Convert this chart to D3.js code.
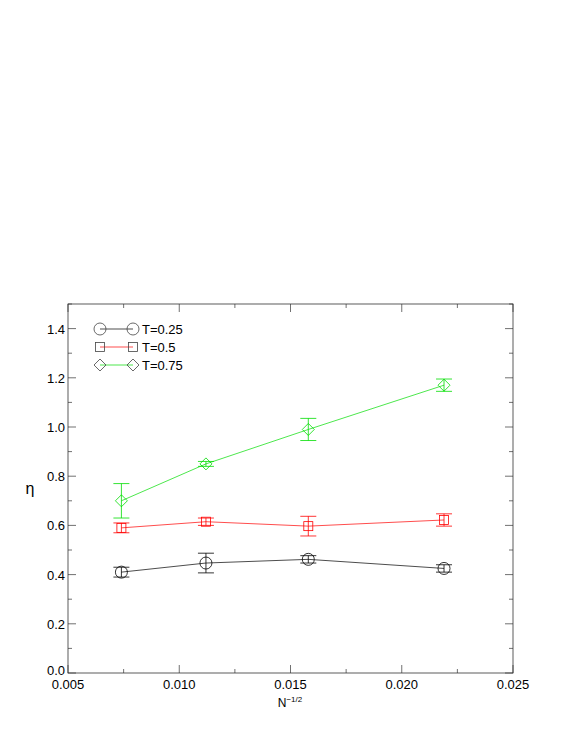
<!DOCTYPE html>
<html><head><meta charset="utf-8">
<script src="https://cdn.jsdelivr.net/npm/d3@7"></script>
<style>body{margin:0;background:#fff}text{font-family:"Liberation Sans",Arial,sans-serif}</style>
</head><body><svg id="chart" width="575" height="744"></svg>
<script>
const xs = [0.0074, 0.0112, 0.0158, 0.0219];
const eta025 = [0.410, 0.447, 0.462, 0.425];
const err025 = [0.020, 0.040, 0.015, 0.015];
const eta05 = [0.590, 0.615, 0.597, 0.622];
const err05 = [0.020, 0.015, 0.040, 0.025];
const eta075 = [0.700, 0.850, 0.990, 1.170];
const err075 = [0.070, 0.010, 0.045, 0.025];
const xTicks = [0.005, 0.010, 0.015, 0.020, 0.025];
const yTicks = [0, 0.2, 0.4, 0.6, 0.8, 1.0, 1.2, 1.4];

const series = [
  {label: "T=0.25", y: eta025, e: err025, color: "#000", sym: "circle"},
  {label: "T=0.5", y: eta05, e: err05, color: "#ff0000", sym: "square"},
  {label: "T=0.75", y: eta075, e: err075, color: "#00dd00", sym: "diamond"}
];

const L = 68, R = 513, T = 304, B = 673;
const svg = d3.select("#chart");
const x = d3.scaleLinear().domain([0.005, 0.025]).range([L, R]);
const y = d3.scaleLinear().domain([0, 1.5]).range([B, T]);

svg.append("rect").attr("x", L).attr("y", T).attr("width", R - L).attr("height", B - T)
  .attr("fill", "none").attr("stroke", "#333").attr("stroke-width", 0.8);

const g = svg.append("g").attr("stroke", "#333").attr("stroke-width", 0.7);
d3.range(0.005, 0.02501, 0.0025).forEach((v, i) => {
  const len = i % 2 === 0 ? 8 : 4;
  g.append("line").attr("x1", x(v)).attr("x2", x(v)).attr("y1", B).attr("y2", B - len);
  g.append("line").attr("x1", x(v)).attr("x2", x(v)).attr("y1", T).attr("y2", T + len);
});
d3.range(0, 1.501, 0.1).forEach((v, i) => {
  const len = i % 2 === 0 ? 8 : 4;
  g.append("line").attr("y1", y(v)).attr("y2", y(v)).attr("x1", L).attr("x2", L + len);
  g.append("line").attr("y1", y(v)).attr("y2", y(v)).attr("x1", R).attr("x2", R - len);
});

svg.selectAll(".xt").data(xTicks).join("text").attr("x", d => x(d)).attr("y", B + 16)
  .attr("text-anchor", "middle").attr("font-size", 13).text(d => d3.format(".3f")(d));
svg.selectAll(".yt").data(yTicks).join("text").attr("x", L - 3).attr("y", d => y(d) + (d === 0 ? 2 : 5))
  .attr("text-anchor", "end").attr("font-size", 13).text(d => d3.format(".1f")(d));

svg.append("text").attr("x", 30).attr("y", y(0.75) + 5).attr("text-anchor", "middle")
  .attr("font-size", 16).text("η");
const xl = svg.append("text").attr("x", 290).attr("y", 707).attr("text-anchor", "middle").attr("font-size", 12);
xl.append("tspan").text("N");
xl.append("tspan").attr("dy", -5).attr("font-size", 8).text("−1/2");

function symbol(sel, type, cx, cy, color) {
  if (type === "circle") sel.append("circle").attr("cx", cx).attr("cy", cy).attr("r", 6)
    .attr("fill", "none").attr("stroke", color).attr("stroke-width", 0.8);
  else if (type === "square") sel.append("rect").attr("x", cx - 4.5).attr("y", cy - 4.5).attr("width", 9).attr("height", 9)
    .attr("fill", "none").attr("stroke", color).attr("stroke-width", 0.8);
  else sel.append("path").attr("d", `M${cx},${cy - 6}L${cx + 6},${cy}L${cx},${cy + 6}L${cx - 6},${cy}Z`)
    .attr("fill", "none").attr("stroke", color).attr("stroke-width", 0.8);
}

series.forEach(s => {
  const pts = xs.map((v, i) => [v, s.y[i], s.e[i]]);
  svg.append("path").attr("d", d3.line().x(d => x(d[0])).y(d => y(d[1]))(pts))
    .attr("fill", "none").attr("stroke", s.color).attr("stroke-width", 0.7);
  pts.forEach(d => {
    const cx = x(d[0]);
    const eg = svg.append("g").attr("stroke", s.color).attr("stroke-width", 0.8);
    eg.append("line").attr("x1", cx).attr("x2", cx).attr("y1", y(d[1] - d[2])).attr("y2", y(d[1] + d[2]));
    [d[1] - d[2], d[1] + d[2]].forEach(v => eg.append("line").attr("x1", cx - 8).attr("x2", cx + 8).attr("y1", y(v)).attr("y2", y(v)));
    symbol(svg, s.sym, cx, y(d[1]), s.color);
  });
});

// legend
series.forEach((s, i) => {
  const ly = 329 + i * 18;
  svg.append("line").attr("x1", 100).attr("x2", 133).attr("y1", ly).attr("y2", ly)
    .attr("stroke", s.color).attr("stroke-width", 0.7);
  symbol(svg, s.sym, 100, ly, "#444");
  symbol(svg, s.sym, 133, ly, "#444");
  svg.append("text").attr("x", 142).attr("y", ly + 5).attr("font-size", 13).text(s.label);
});
</script></body></html>
